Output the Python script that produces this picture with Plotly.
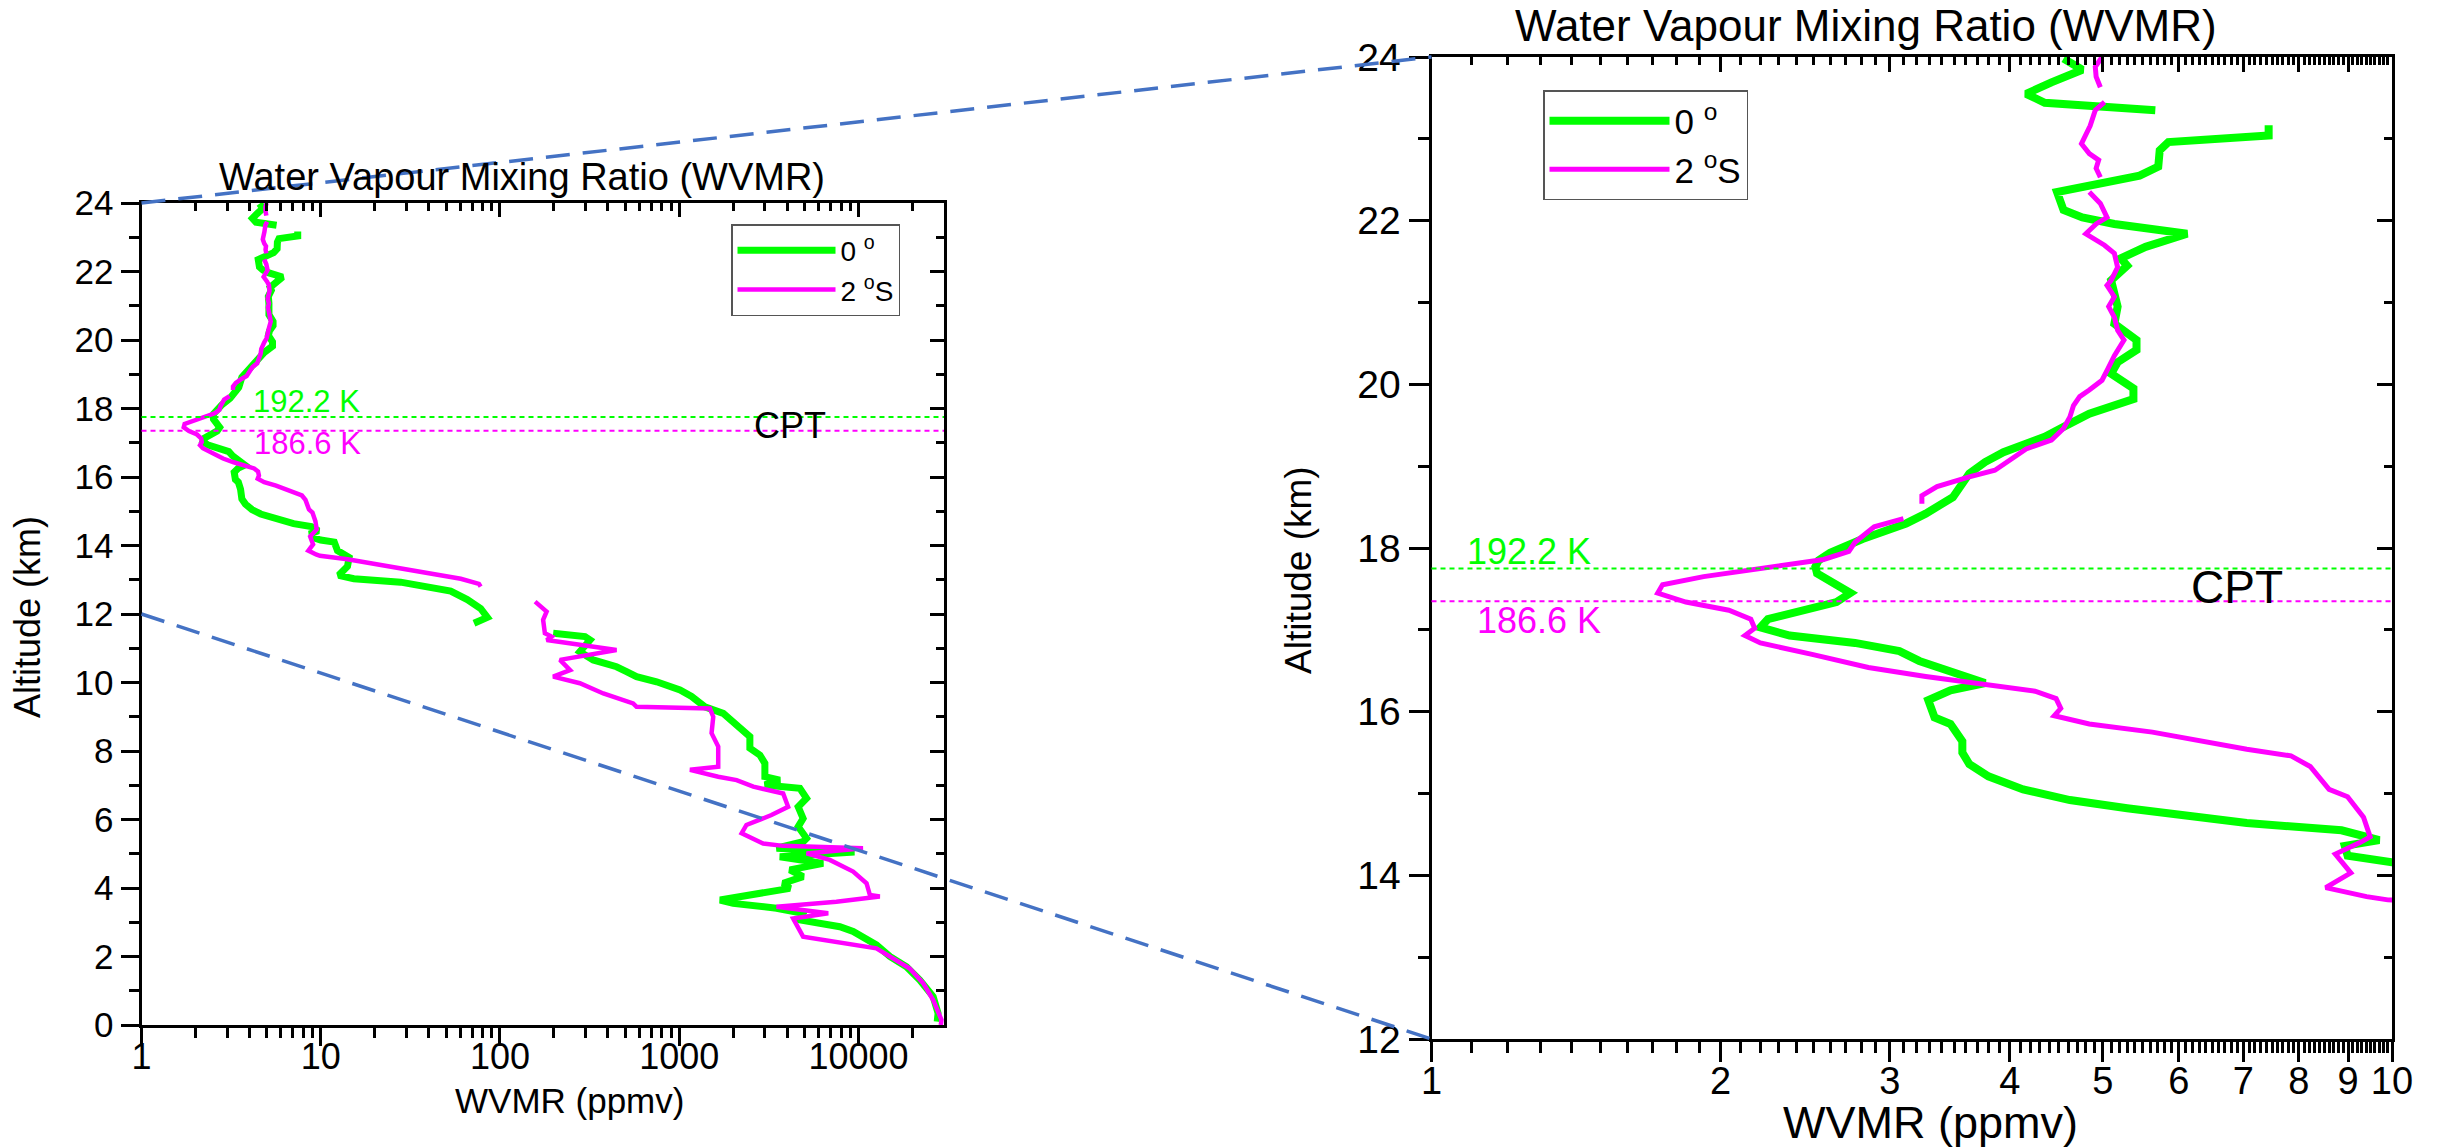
import math
import plotly.graph_objects as go

W, H = 2448, 1147
FONT = "Liberation Sans"

# ---------------- data ----------------
# 0 deg profile: altitude (km) and WVMR (ppmv); None marks gaps in the profile
alt_0deg = [23.98, 23.845, 23.69, 23.55, 23.44, 23.35, None,
            23.165, 23.04, 22.96, 22.86, 22.66, 22.55, 22.35, 22.13, 22.04, 21.96, 21.84,
            21.68, 21.54, 21.45, 21.27, 21.07, 20.95, 20.74, 20.54, 20.42, 20.27, 20.13,
            19.95, 19.82, 19.64, 19.52, 19.36, 19.17, 19.05, 18.91, 18.62, 18.42, 18.30,
            18.11, 17.94, 17.85, 17.77, 17.69, 17.45, 17.34, 17.13, 17.03, 16.93, 16.84,
            16.74, 16.62, 16.51, 16.35, 16.26, 16.14, 15.93, 15.85, 15.64, 15.50, 15.36,
            15.21, 15.05, 14.92, 14.82, 14.74, 14.64, 14.55, 14.43, 14.36, 14.24, 14.16,
            14.10, 13.85, 13.65, 13.39, 13.13, 13.03, 12.93, 12.67, 12.42, 12.16, 11.90,
            11.73, None,
            11.44, 11.39, 11.34, 11.24, 11.05, 10.90, 10.66, 10.46, 10.32, 10.17, 10.02,
            9.78, 9.59, 9.29, 9.10, 8.86, 8.61, 8.42, 8.08, 7.88, 7.64, 7.25, 7.15, 7.01,
            6.91, 6.62, 6.37, 6.03, 5.79, 5.45, 5.35, 5.16, 5.05, 4.91, 4.72, 4.53, 4.33,
            4.14, 3.99, 3.84, 3.65, 3.55, 3.41, 3.26, 3.07, 2.87, 2.73, 2.34, 2.00, 1.70,
            1.31, 0.83, 0.34, 0.10]
wvmr_0deg = [4.55, 4.76, 4.42, 4.16, 4.35, 5.67, None,
             7.44, 7.44, 5.85, 5.73, 5.71, 5.46, 4.48, 4.55, 4.76, 5.14, 6.12,
             5.54, 5.22, 5.30, 5.10, 5.14, 5.18, 5.14, 5.42, 5.42, 5.18, 5.10,
             5.38, 5.38, 4.84, 4.62, 4.35, 3.94, 3.77, 3.63, 3.49, 3.27, 3.12,
             2.81, 2.60, 2.53, 2.51, 2.52, 2.73, 2.64, 2.24, 2.20, 2.36, 2.76,
             3.07, 3.22, 3.42, 3.77, 3.47, 3.29, 3.34, 3.47, 3.57, 3.57, 3.63,
             3.80, 4.13, 4.62, 5.30, 6.07, 7.06, 8.86, 9.70, 8.93, 8.99, 10.0,
             11.9, 12.4, 14.4, 14.1, 12.6, 15.3, 27.9, 53.1, 65.7, 78.0, 85.0,
             71.6, None,
             198, 268, 298, 318, 298, 279, 331, 447, 508, 578, 748,
             1010, 1172, 1390, 1760, 2000, 2275, 2478, 2478, 2820, 3005, 3005, 3640, 3005,
             4710, 5130, 4610, 4910, 4610, 5130, 4910, 3490, 9500, 3640, 6350, 4140, 4910,
             3800, 4140, 2700, 1690, 2000, 3490, 4910, 4710, 7870, 9340, 12590, 14960, 18530,
             21990, 26100, 27800, 27500]

# 2 deg S profile
alt_2S = [24.0, 23.88, 23.76, 23.63, None,
          23.45, 23.35, 23.16, 22.94, 22.82, 22.74, 22.64, 22.53, None,
          22.35, 22.21, 22.04, 21.96, 21.84, 21.70, 21.60, 21.43, 21.27, 21.21, 21.07,
          20.95, 20.82, 20.66, 20.54, 20.35, 20.19, 20.05, 19.93, 19.85, 19.74, 19.60,
          19.46, 19.32, 19.21, 19.13, 18.95, 18.87, 18.75, 18.64, 18.54, None,
          18.36, 18.26, 18.07, 17.96, 17.86, 17.75, 17.65, 17.55, 17.45, 17.34, 17.24,
          17.13, 17.02, 16.93, 16.84, 16.70, 16.54, 16.43, 16.33, 16.25, 16.16, 16.04,
          15.95, 15.85, 15.75, 15.62, 15.54, 15.46, 15.33, 15.05, 14.96, 14.71, 14.47,
          14.40, 14.26, 14.03, 13.85, 13.74, 13.70, 13.60, 13.34, 13.19, 13.03, 12.88,
          12.80, None,
          12.36, 12.07, 11.83, 11.44, 11.34, 11.24, 10.95, 10.80, 10.66, 10.36, 10.17,
          9.98, 9.68, 9.39, 9.29, 9.24, 9.00, 8.52, 8.13, 7.54, 7.45, 7.25, 7.15, 6.96,
          6.76, 6.37, 6.13, 5.84, 5.60, 5.30, 5.23, 5.16, 5.01, 4.82, 4.48, 4.14, 3.80,
          3.75, 3.60, 3.45, 3.26, 3.11, 2.77, 2.58, 2.24, 2.00, 1.65, 1.22, 0.73, 0.15,
          0.0]
wvmr_2S = [4.99, 4.91, 4.92, 4.97, None,
           5.02, 4.91, 4.85, 4.75, 4.84, 4.95, 4.92, 4.97, None,
           4.84, 4.97, 5.05, 4.92, 4.80, 5.02, 5.14, 5.18, 5.10, 5.05, 5.14,
           5.07, 5.14, 5.18, 5.26, 5.14, 5.06, 4.99, 4.84, 4.73, 4.66, 4.62,
           4.55, 4.42, 4.16, 4.06, 3.86, 3.63, 3.36, 3.24, 3.24, None,
           3.10, 2.89, 2.76, 2.72, 2.56, 2.22, 1.92, 1.74, 1.72, 1.84, 2.04,
           2.15, 2.17, 2.12, 2.20, 2.49, 2.85, 3.27, 3.80, 4.25, 4.47, 4.52,
           4.45, 4.84, 5.63, 6.45, 7.06, 7.85, 8.22, 8.60, 8.99, 9.34, 9.49,
           9.26, 8.73, 9.06, 8.53, 9.41, 9.9, 14.1, 27.9, 42.9, 60.4, 76.3,
           78.0, None,
           157, 182, 174, 178, 194, 182, 447, 304, 216, 246, 198,
           279, 377, 553, 578, 1483, 1548, 1515, 1650, 1650, 1148, 1650, 2090, 2590,
           3800, 4050, 3270, 2370, 2230, 2940, 3800, 10600, 5130, 6920, 9340, 11090, 11570,
           13150, 7530, 3490, 6780, 4320, 4710, 4910, 12590, 14960, 19320, 22960, 26100, 29040,
           28800]

series_names = ["0 <sup>o</sup>", "2 <sup>o</sup>S"]

# cold point tropopause altitudes (km) and temperatures
cpt_alt_0deg = 17.75
cpt_alt_2S = 17.35
cpt_label_0deg = "192.2 K"
cpt_label_2S = "186.6 K"

# ticks
left_xticks = [1, 10, 100, 1000, 10000]
left_xticklabels = ["1", "10", "100", "1000", "10000"]
left_yticks = [0, 2, 4, 6, 8, 10, 12, 14, 16, 18, 20, 22, 24]
right_xticks = [1, 2, 3, 4, 5, 6, 7, 8, 9, 10]
right_xticklabels = ["1", "2", "3", "4", "5", "6", "7", "8", "9", "10"]
right_yticks = [12, 14, 16, 18, 20, 22, 24]

title_text = "Water Vapour Mixing Ratio (WVMR)"
xlabel = "WVMR (ppmv)"
ylabel = "Altitude (km)"

# ---------------- layout geometry (pixels) ----------------
L = dict(x0=141.5, x1=944.0, top=203.0, bottom=1025.0)
R = dict(x0=1431.5, x1=2392.0, top=57.0, bottom=1039.0)
LEFT_XMAX = 30000

GREEN = "#00FF00"
MAGENTA = "#FF00FF"
BLUE = "#4472C4"


def fx(p):
    return p / W


def fy(p):
    return 1 - p / H


left_xminor = [m * 10 ** d for d in range(0, 5) for m in range(2, 10) if m * 10 ** d < LEFT_XMAX]
right_xminor = [round(i * 0.1, 1) for i in range(11, 100) if i % 10 != 0]

fig = go.Figure()

# left (full profile)
fig.add_trace(go.Scatter(x=wvmr_0deg, y=alt_0deg, mode="lines", name=series_names[0],
                         line=dict(color=GREEN, width=7), xaxis="x", yaxis="y",
                         legend="legend", connectgaps=False))
fig.add_trace(go.Scatter(x=wvmr_2S, y=alt_2S, mode="lines", name=series_names[1],
                         line=dict(color=MAGENTA, width=4.5), xaxis="x", yaxis="y",
                         legend="legend", connectgaps=False))
# right (zoom)
fig.add_trace(go.Scatter(x=wvmr_0deg, y=alt_0deg, mode="lines", name=series_names[0],
                         line=dict(color=GREEN, width=8), xaxis="x2", yaxis="y2",
                         legend="legend2", connectgaps=False))
fig.add_trace(go.Scatter(x=wvmr_2S, y=alt_2S, mode="lines", name=series_names[1],
                         line=dict(color=MAGENTA, width=5), xaxis="x2", yaxis="y2",
                         legend="legend2", connectgaps=False))

axis_common = dict(showline=True, linewidth=3, linecolor="black", showgrid=False,
                   zeroline=False, tickcolor="black", tickwidth=3, automargin=False)


def xaxis_def(domain, rng, tickvals, ticktext, minorvals, size, anchor, side="bottom",
              overlay=None, major_len=18, minor_len=10, standoff=0):
    d = dict(axis_common, type="log", range=rng, tickmode="array", tickvals=tickvals,
             ticktext=ticktext, anchor=anchor, side=side,
             minor=dict(tickmode="array", tickvals=minorvals, ticklen=minor_len,
                        tickwidth=2.5, tickcolor="black",
                        ticks="outside" if side == "bottom" else "inside"),
             ticks="outside" if side == "bottom" else "inside", ticklen=major_len,
             tickfont=dict(family=FONT, size=size, color="black"),
             showticklabels=(side == "bottom"), ticklabelstandoff=standoff)
    if overlay:
        d["overlaying"] = overlay
    else:
        d["domain"] = domain
    return d


def yaxis_def(domain, rng, tickvals, size, anchor, side="left", overlay=None,
              major_len=18, minor_len=10):
    d = dict(axis_common, range=rng, tickmode="array", tickvals=tickvals, anchor=anchor,
             side=side,
             minor=dict(dtick=1, tick0=0, ticklen=minor_len, tickwidth=2.5, tickcolor="black",
                        ticks="outside" if side == "left" else "inside"),
             ticks="outside" if side == "left" else "inside", ticklen=major_len,
             tickfont=dict(family=FONT, size=size, color="black"),
             showticklabels=(side == "left"))
    if overlay:
        d["overlaying"] = overlay
    else:
        d["domain"] = domain
    return d


lx_range = [0, math.log10(LEFT_XMAX)]
rx_range = [0, 1]
ldom_x = [fx(L["x0"]), fx(L["x1"])]
ldom_y = [fy(L["bottom"]), fy(L["top"])]
rdom_x = [fx(R["x0"]), fx(R["x1"])]
rdom_y = [fy(R["bottom"]), fy(R["top"])]

fig.update_layout(
    xaxis=xaxis_def(ldom_x, lx_range, left_xticks, left_xticklabels, left_xminor, 36, "y",
                    standoff=-20),
    yaxis=yaxis_def(ldom_y, [0, 24], left_yticks, 35, "x"),
    xaxis2=xaxis_def(rdom_x, rx_range, right_xticks, right_xticklabels, right_xminor, 38, "y2",
                     major_len=20, minor_len=11, standoff=-14),
    yaxis2=yaxis_def(rdom_y, [12, 24], right_yticks, 39, "x2", major_len=20, minor_len=11),
    xaxis3=xaxis_def(None, lx_range, left_xticks, left_xticklabels, left_xminor, 36, "y",
                     side="top", overlay="x", major_len=14, minor_len=8),
    yaxis3=yaxis_def(None, [0, 24], left_yticks, 35, "x", side="right", overlay="y",
                     major_len=14, minor_len=8),
    xaxis4=xaxis_def(None, rx_range, right_xticks, right_xticklabels, right_xminor, 38, "y2",
                     side="top", overlay="x2", major_len=15, minor_len=8),
    yaxis4=yaxis_def(None, [12, 24], right_yticks, 39, "x2", side="right", overlay="y2",
                     major_len=15, minor_len=8),
)

fig.add_trace(go.Scatter(x=[None], y=[None], xaxis="x3", yaxis="y3", showlegend=False,
                         hoverinfo="skip"))
fig.add_trace(go.Scatter(x=[None], y=[None], xaxis="x4", yaxis="y4", showlegend=False,
                         hoverinfo="skip"))

shapes = []
# CPT reference lines
for xa, ya in (("x", "y"), ("x2", "y2")):
    shapes.append(dict(type="line", xref=f"{xa} domain", yref=ya, x0=0, x1=1,
                       y0=cpt_alt_0deg, y1=cpt_alt_0deg,
                       line=dict(color=GREEN, width=2, dash="5px,4px"), layer="above"))
    shapes.append(dict(type="line", xref=f"{xa} domain", yref=ya, x0=0, x1=1,
                       y0=cpt_alt_2S, y1=cpt_alt_2S,
                       line=dict(color=MAGENTA, width=2, dash="5px,4px"), layer="above"))

# connectors between the full profile and the zoomed panel
left_y12 = L["bottom"] - (L["bottom"] - L["top"]) * 12 / 24
shapes.append(dict(type="line", xref="paper", yref="paper",
                   x0=fx(L["x0"]), y0=fy(L["top"]), x1=fx(R["x0"]), y1=fy(R["top"]),
                   line=dict(color=BLUE, width=3.5, dash="24px,13px"), layer="above"))
shapes.append(dict(type="line", xref="paper", yref="paper",
                   x0=fx(L["x0"]), y0=fy(left_y12), x1=fx(R["x0"]), y1=fy(R["bottom"]),
                   line=dict(color=BLUE, width=3.5, dash="24px,13px"), layer="above"))


def ann(text, px, py, size, color="black", angle=0):
    return dict(text=text, x=fx(px), y=fy(py), xref="paper", yref="paper", showarrow=False,
                font=dict(family=FONT, size=size, color=color), textangle=angle,
                xanchor="center", yanchor="middle")


annotations = [
    ann(title_text, 522, 177, 38),
    ann(title_text, 1866, 26, 44),
    ann(xlabel, 569, 1100, 35),
    ann(xlabel, 1930, 1122, 45),
    ann(ylabel, 27, 617, 36, angle=-90),
    ann(ylabel, 1298, 570, 37, angle=-90),
    ann(cpt_label_0deg, 306, 402, 31, GREEN),
    ann(cpt_label_2S, 307, 443, 31, MAGENTA),
    ann("CPT", 790, 425, 36),
    ann(cpt_label_0deg, 1529, 551, 36, GREEN),
    ann(cpt_label_2S, 1539, 620, 36, MAGENTA),
    ann("CPT", 2237, 587, 46),
]

fig.update_layout(
    width=W, height=H, autosize=False,
    margin=dict(l=0, r=0, t=0, b=0, pad=0, autoexpand=False),
    paper_bgcolor="white", plot_bgcolor="white",
    shapes=shapes, annotations=annotations,
    showlegend=True,
    legend=dict(x=fx(731), y=fy(224), xanchor="left", yanchor="top",
                bgcolor="white", bordercolor="#555555", borderwidth=1.5,
                font=dict(family=FONT, size=28, color="black"), itemwidth=98,
                tracegroupgap=0),
    legend2=dict(x=fx(1543), y=fy(90), xanchor="left", yanchor="top",
                 bgcolor="white", bordercolor="#555555", borderwidth=1.5,
                 font=dict(family=FONT, size=35, color="black"), itemwidth=120,
                 tracegroupgap=0),
)

fig.write_html("out.html")
